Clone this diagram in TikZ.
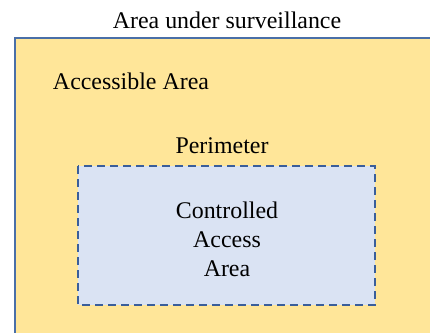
\documentclass[tikz,border=0pt]{standalone}
\usepackage{fontspec}
\setmainfont{Liberation Serif}
\begin{document}
\begin{tikzpicture}[x=1bp,y=-1bp,
  lbl/.style={font=\fontsize{24}{29}\selectfont, inner sep=0pt, align=center},
  zone/.style={draw=zoneline, line width=2bp},
  perim/.style={draw=perimline, fill=perimfill, line width=2bp, dash pattern=on 8bp off 5bp}]
\definecolor{zonefill}{HTML}{FFE699}
\definecolor{zoneline}{HTML}{4A6FA8}
\definecolor{perimfill}{HTML}{DAE3F3}
\definecolor{perimline}{HTML}{3A5E9A}
\useasboundingbox (0,0) rectangle (430,333);
\begin{scope}
  \clip (0,0) rectangle (430,333);
  % surveillance zone, running off the right and bottom edges
  \fill[zonefill] (15,38) rectangle (440,345);
  \draw[zone] (15,345) -- (15,38) -- (440,38);
  % controlled access area
  \path[perim] (78,166) rectangle (375,305);
\end{scope}
\node[lbl] (title) at (227,20) {Area under surveillance};
\node[lbl] (acc) at (131,81) {Accessible Area};
\node[lbl] (per) at (222,146) {Perimeter};
\node[lbl] (cac) at (227,239) {Controlled\\Access\\Area};
\end{tikzpicture}
\end{document}
